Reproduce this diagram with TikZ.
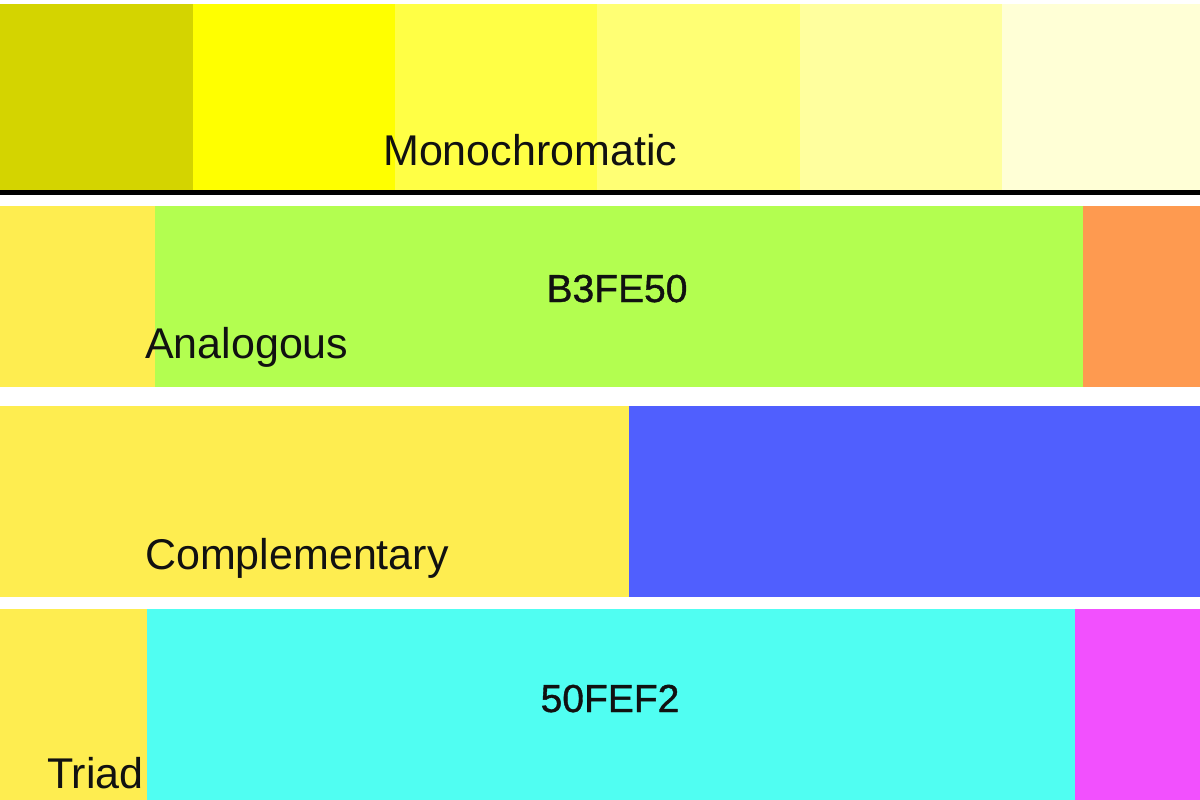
\documentclass[tikz,border=0pt]{standalone}
\usepackage{fontspec}
\setmainfont{Liberation Sans}
\newfontfamily\hexfont{Liberation Sans}[FakeBold=1]
\definecolor{monoA}{HTML}{D4D400}
\definecolor{monoB}{HTML}{FFFF00}
\definecolor{monoC}{HTML}{FFFF45}
\definecolor{monoD}{HTML}{FFFF74}
\definecolor{monoE}{HTML}{FFFF9E}
\definecolor{monoF}{HTML}{FFFFD6}
\definecolor{baseY}{HTML}{FEED50}
\definecolor{anaG}{HTML}{B3FE50}
\definecolor{anaO}{HTML}{FE9A50}
\definecolor{compB}{HTML}{505FFE}
\definecolor{triC}{HTML}{50FEF2}
\definecolor{triM}{HTML}{F250FE}
\definecolor{txt}{HTML}{111111}
\tikzset{
  swatch/.style={draw=none},
  lbl/.style={inner sep=0pt, anchor=base west, text=txt, font=\fontsize{43}{50}\selectfont},
  hex/.style={inner sep=0pt, anchor=base, text=txt, font=\hexfont\fontsize{39}{46}\selectfont}
}
\begin{document}
\begin{tikzpicture}[x=1pt,y=-1pt]
\useasboundingbox (0,0) rectangle (1200,800);
\fill[white] (0,0) rectangle (1200,800);
% Monochromatic
\fill[monoA] (0,4) rectangle (193,190);
\fill[monoB] (193,4) rectangle (395,190);
\fill[monoC] (395,4) rectangle (597,190);
\fill[monoD] (597,4) rectangle (800,190);
\fill[monoE] (800,4) rectangle (1002,190);
\fill[monoF] (1002,4) rectangle (1200,190);
\fill[black] (0,190) rectangle (1200,195);
\node[lbl] (mono) at (383,165) {Monochromatic};
% Analogous
\fill[baseY] (0,206) rectangle (155,387);
\fill[anaG] (155,206) rectangle (1083,387);
\fill[anaO] (1083,206) rectangle (1200,387);
\node[hex] (hexA) at (617,302) {B3FE50};
\node[lbl] (ana) at (145,358) {Analogous};
% Complementary
\fill[baseY] (0,406) rectangle (629,597);
\fill[compB] (629,406) rectangle (1200,597);
\node[lbl] (comp) at (145,569) {Complementary};
% Triad
\fill[baseY] (0,609) rectangle (147,800);
\fill[triC] (147,609) rectangle (1075,800);
\fill[triM] (1075,609) rectangle (1200,800);
\node[hex] (hexT) at (610,712) {50FEF2};
\node[lbl] (tri) at (47,788) {Triad};
\end{tikzpicture}
\end{document}
